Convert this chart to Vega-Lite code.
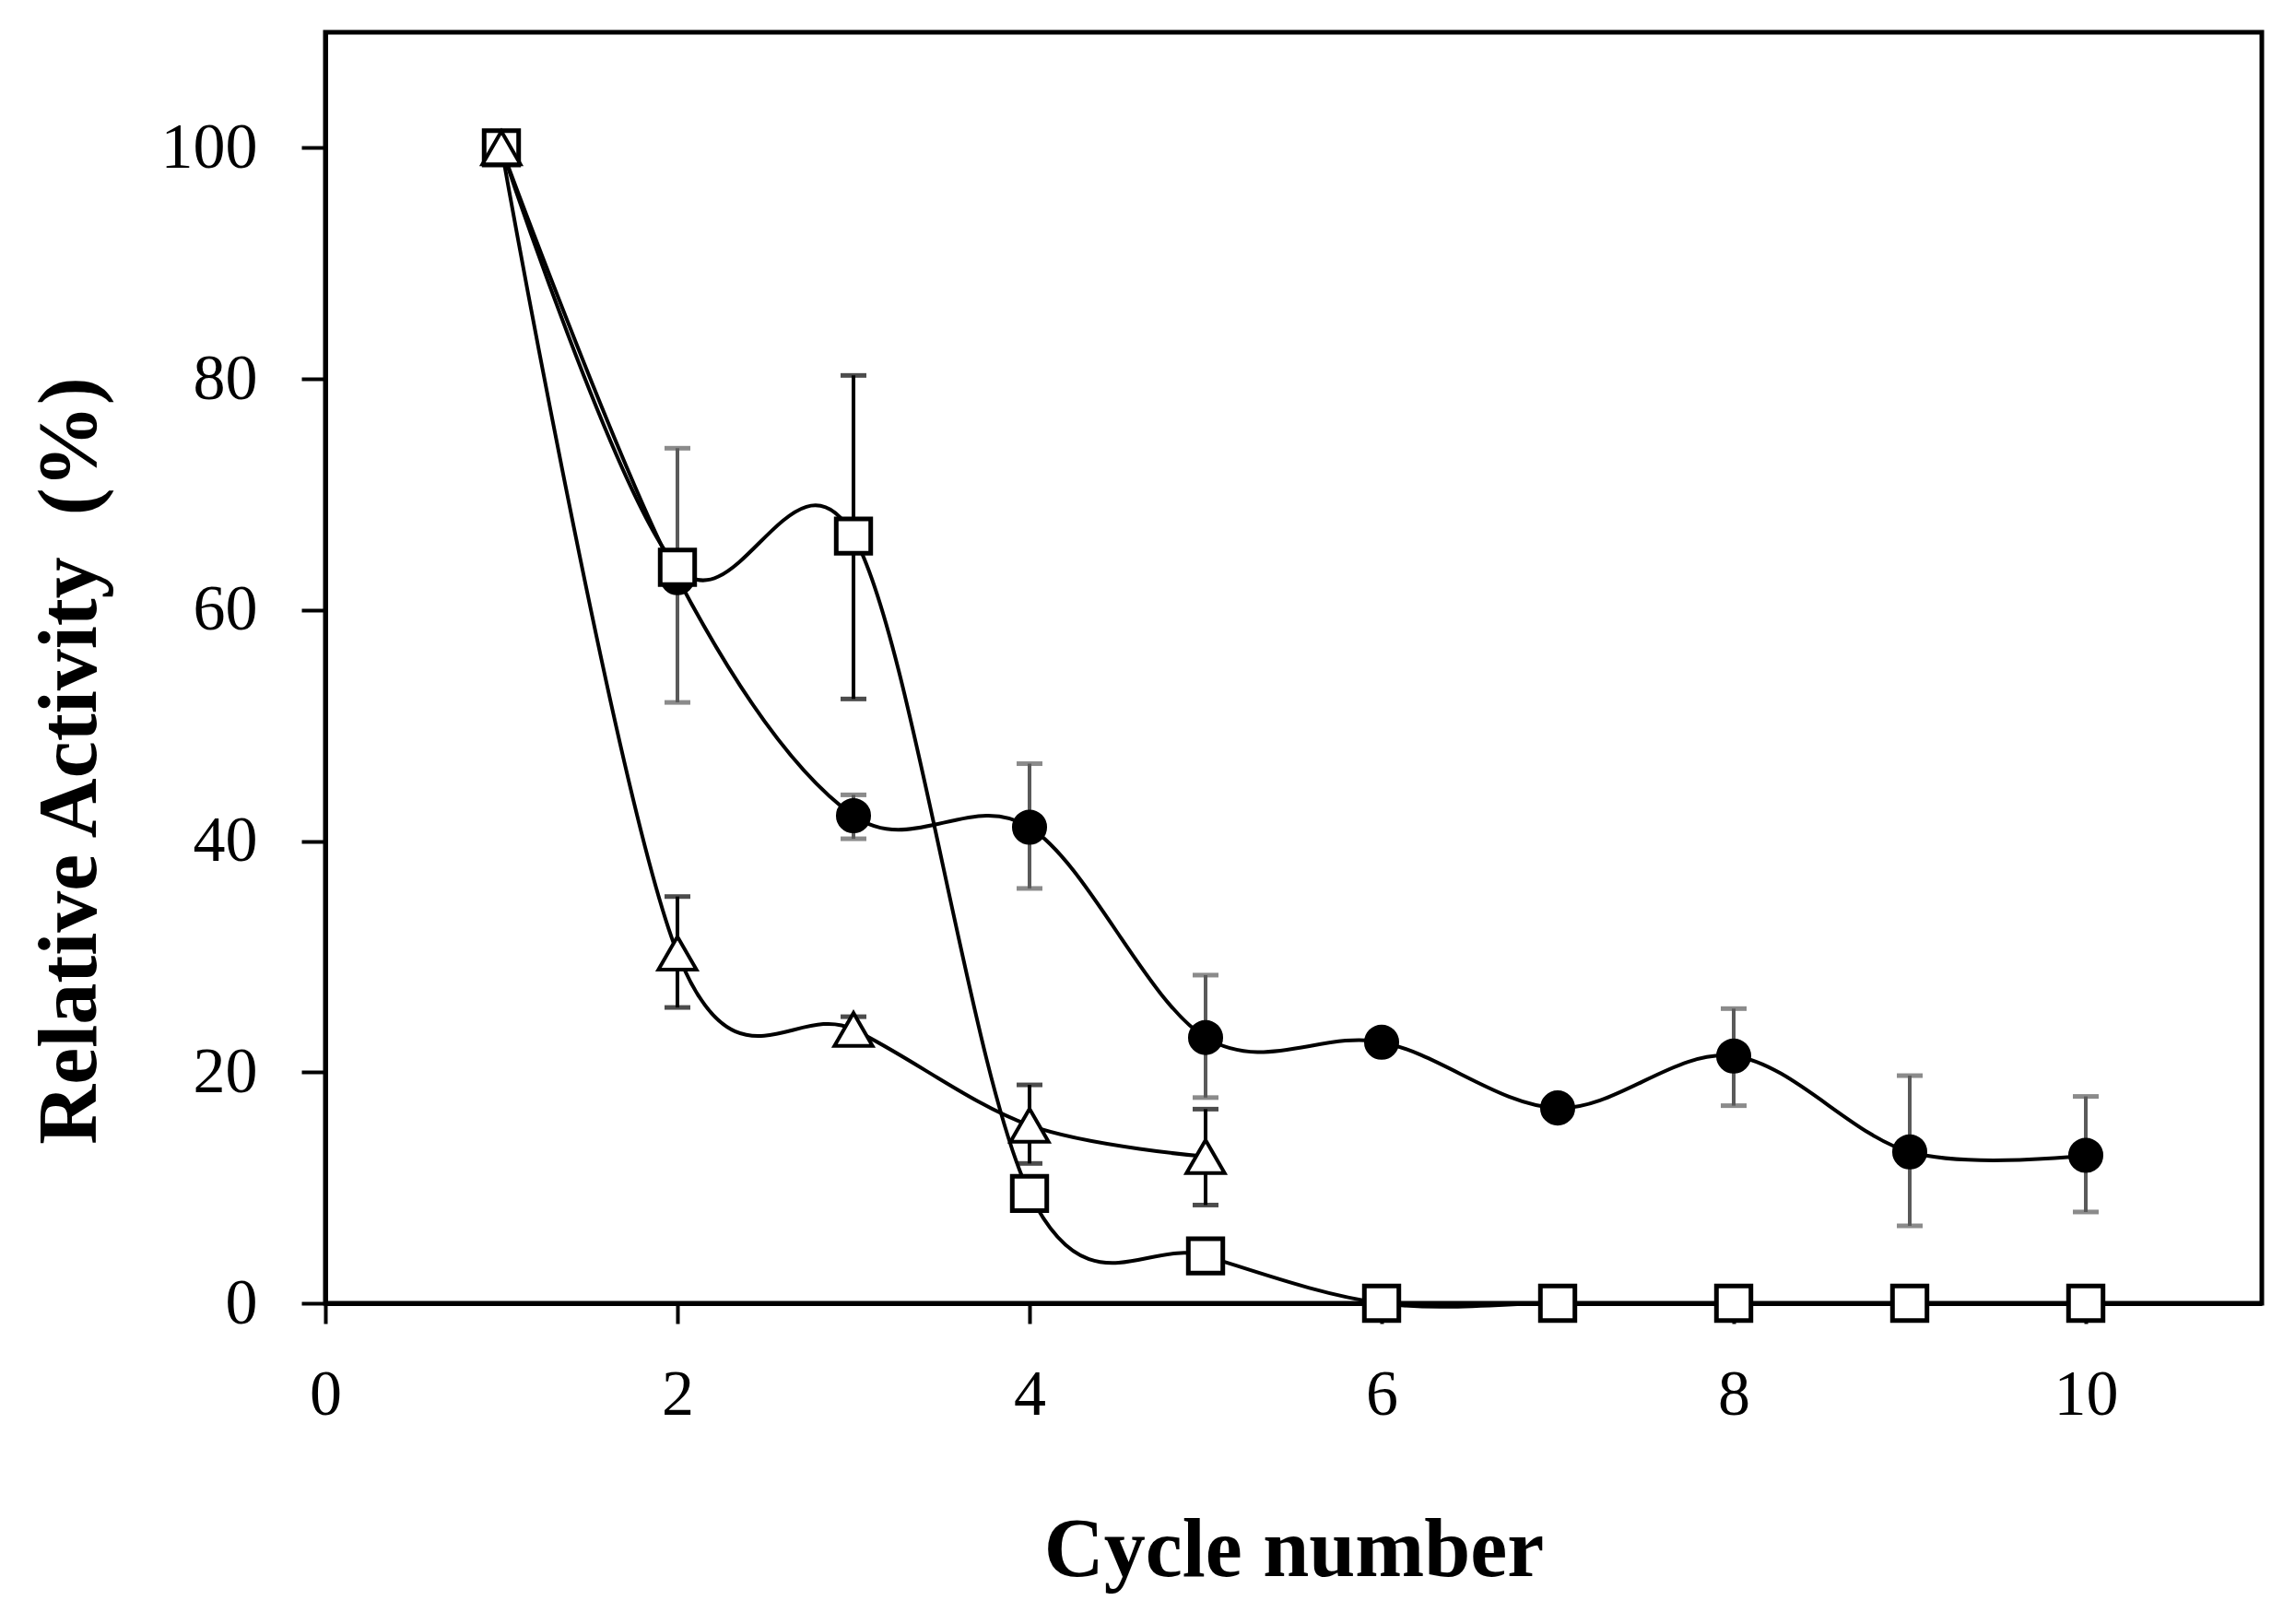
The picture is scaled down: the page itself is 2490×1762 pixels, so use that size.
{
  "$schema": "https://vega.github.io/schema/vega-lite/v6.json",
  "width": 2101,
  "height": 1379,
  "autosize": "none",
  "padding": {"left": 353, "top": 35, "right": 36, "bottom": 348},
  "background": "white",
  "config": {
    "view": {"stroke": "black", "strokeWidth": 5},
    "axis": {
      "domainColor": "black",
      "domainWidth": 5,
      "tickColor": "black",
      "tickWidth": 4,
      "grid": false,
      "labelFont": "Liberation Serif",
      "labelFontSize": 70,
      "labelColor": "black",
      "labelFlush": false,
      "labelOverlap": false,
      "titleFont": "Liberation Serif",
      "titleFontSize": 90,
      "titleFontWeight": "bold",
      "titleColor": "black"
    },
    "axisX": {"tickSize": 22, "labelPadding": 43, "titlePadding": 90},
    "axisY": {"tickSize": 26, "labelPadding": 48, "titlePadding": 52, "titleY": 790}
  },
  "data": {
    "values": [
      {"series": "circle", "cycle": 1, "activity": 100, "lo": null, "hi": null},
      {"series": "circle", "cycle": 2, "activity": 62.8, "lo": 52, "hi": 74},
      {"series": "circle", "cycle": 3, "activity": 42.2, "lo": 40.2, "hi": 44},
      {"series": "circle", "cycle": 4, "activity": 41.2, "lo": 35.9, "hi": 46.7},
      {"series": "circle", "cycle": 5, "activity": 23, "lo": 17.8, "hi": 28.4},
      {"series": "circle", "cycle": 6, "activity": 22.6, "lo": null, "hi": null},
      {"series": "circle", "cycle": 7, "activity": 16.9, "lo": null, "hi": null},
      {"series": "circle", "cycle": 8, "activity": 21.4, "lo": 17.1, "hi": 25.5},
      {"series": "circle", "cycle": 9, "activity": 13.1, "lo": 6.7, "hi": 19.7},
      {"series": "circle", "cycle": 10, "activity": 12.8, "lo": 7.9, "hi": 17.9},
      {"series": "square", "cycle": 1, "activity": 100, "lo": null, "hi": null},
      {"series": "square", "cycle": 2, "activity": 63.7, "lo": null, "hi": null},
      {"series": "square", "cycle": 3, "activity": 66.4, "lo": 52.3, "hi": 80.3},
      {"series": "square", "cycle": 4, "activity": 9.5, "lo": null, "hi": null},
      {"series": "square", "cycle": 5, "activity": 4.1, "lo": 2.8, "hi": 5.2},
      {"series": "square", "cycle": 6, "activity": 0, "lo": null, "hi": null},
      {"series": "square", "cycle": 7, "activity": 0, "lo": null, "hi": null},
      {"series": "square", "cycle": 8, "activity": 0, "lo": null, "hi": null},
      {"series": "square", "cycle": 9, "activity": 0, "lo": null, "hi": null},
      {"series": "square", "cycle": 10, "activity": 0, "lo": null, "hi": null},
      {"series": "triangle", "cycle": 1, "activity": 100, "lo": null, "hi": null},
      {"series": "triangle", "cycle": 2, "activity": 30.3, "lo": 25.6, "hi": 35.2},
      {"series": "triangle", "cycle": 3, "activity": 23.7, "lo": 22.8, "hi": 24.8},
      {"series": "triangle", "cycle": 4, "activity": 15.4, "lo": 12.1, "hi": 18.9},
      {"series": "triangle", "cycle": 5, "activity": 12.7, "lo": 8.5, "hi": 16.8}
    ]
  },
  "encoding": {
    "x": {
      "field": "cycle",
      "type": "quantitative",
      "scale": {"domain": [0, 11], "nice": false, "zero": false},
      "axis": {"title": "Cycle number", "values": [0, 2, 4, 6, 8, 10]}
    }
  },
  "layer": [
    {
      "transform": [{"filter": "datum.lo != null"}],
      "mark": {"type": "rule", "strokeWidth": 4},
      "encoding": {
        "y": {"field": "lo", "type": "quantitative", "scale": {"domain": [0, 110], "nice": false}, "axis": {"title": "Relative Activity \u00a0(%)", "values": [0, 20, 40, 60, 80, 100]}},
        "y2": {"field": "hi"},
        "color": {"field": "series", "type": "nominal", "scale": {"domain": ["circle", "square", "triangle"], "range": ["#5a5a5a", "black", "black"]}, "legend": null}
      }
    },
    {
      "transform": [{"filter": "datum.lo != null"}],
      "mark": {"type": "tick", "orient": "horizontal", "size": 28, "thickness": 5},
      "encoding": {
        "y": {"field": "lo", "type": "quantitative", "scale": {"domain": [0, 110], "nice": false}, "axis": {"title": "Relative Activity \u00a0(%)", "values": [0, 20, 40, 60, 80, 100]}},
        "color": {"field": "series", "type": "nominal", "scale": {"domain": ["circle", "square", "triangle"], "range": ["#5a5a5a", "black", "black"]}, "legend": null}
      }
    },
    {
      "transform": [{"filter": "datum.lo != null"}],
      "mark": {"type": "tick", "orient": "horizontal", "size": 28, "thickness": 5},
      "encoding": {
        "y": {"field": "hi", "type": "quantitative", "scale": {"domain": [0, 110], "nice": false}, "axis": {"title": "Relative Activity \u00a0(%)", "values": [0, 20, 40, 60, 80, 100]}},
        "color": {"field": "series", "type": "nominal", "scale": {"domain": ["circle", "square", "triangle"], "range": ["#5a5a5a", "black", "black"]}, "legend": null}
      }
    },
    {
      "mark": {"type": "line", "interpolate": "cardinal", "color": "black", "strokeWidth": 4},
      "encoding": {
        "y": {"field": "activity", "type": "quantitative", "scale": {"domain": [0, 110], "nice": false}, "axis": {"title": "Relative Activity \u00a0(%)", "values": [0, 20, 40, 60, 80, 100]}},
        "detail": {"field": "series", "type": "nominal"}
      }
    },
    {
      "transform": [{"filter": "datum.series == 'circle'"}],
      "mark": {"type": "point", "shape": "circle", "filled": true, "fill": "black", "stroke": "black", "strokeWidth": 2, "size": 1300, "opacity": 1},
      "encoding": {
        "y": {"field": "activity", "type": "quantitative", "scale": {"domain": [0, 110], "nice": false}, "axis": {"title": "Relative Activity \u00a0(%)", "values": [0, 20, 40, 60, 80, 100]}}
      }
    },
    {
      "transform": [{"filter": "datum.series == 'square'"}],
      "mark": {"type": "point", "shape": "square", "filled": true, "fill": "white", "stroke": "black", "strokeWidth": 5, "size": 1400, "opacity": 1},
      "encoding": {
        "y": {"field": "activity", "type": "quantitative", "scale": {"domain": [0, 110], "nice": false}, "axis": {"title": "Relative Activity \u00a0(%)", "values": [0, 20, 40, 60, 80, 100]}}
      }
    },
    {
      "transform": [{"filter": "datum.series == 'triangle'"}],
      "mark": {"type": "point", "shape": "triangle-up", "filled": true, "fill": "white", "stroke": "black", "strokeWidth": 4, "size": 1700, "opacity": 1},
      "encoding": {
        "y": {"field": "activity", "type": "quantitative", "scale": {"domain": [0, 110], "nice": false}, "axis": {"title": "Relative Activity \u00a0(%)", "values": [0, 20, 40, 60, 80, 100]}}
      }
    }
  ]
}
